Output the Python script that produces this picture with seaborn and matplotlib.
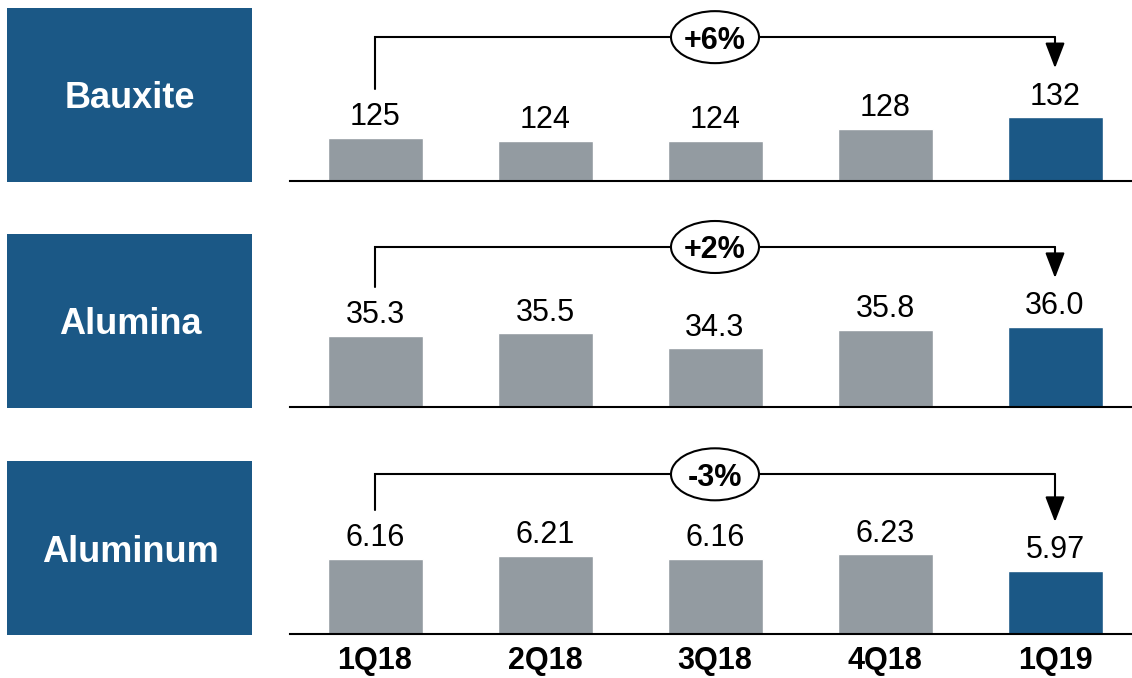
import matplotlib
matplotlib.use("Agg")
import matplotlib.pyplot as plt
from matplotlib.patches import Ellipse, Rectangle
import seaborn as sns
import pandas as pd

# data
quarters = ["1Q18", "2Q18", "3Q18", "4Q18", "1Q19"]
bauxite = [125, 124, 124, 128, 132]
alumina = [35.3, 35.5, 34.3, 35.8, 36.0]
aluminum = [6.16, 6.21, 6.16, 6.23, 5.97]
segments = ["Bauxite", "Alumina", "Aluminum"]
changes = ["+6%", "+2%", "-3%"]
value_fmt = ["{:.0f}", "{:.1f}", "{:.2f}"]

# truncated value axes (floor value and pixels per unit)
axis_floor = [110.5, 29.6, 4.985]
px_per_unit = [2.97, 12.5, 64.0]

BLUE = "#1B5886"
GREY = "#939BA1"
W, H = 1132, 678
baselines = [181, 407, 634]
AX_H = 200  # axes height in px above baseline
STEP = 170  # px between bar centres

sns.set_theme(style="white")
plt.rcParams["font.family"] = ["Liberation Sans", "DejaVu Sans"]

fig = plt.figure(figsize=(W / 100, H / 100), dpi=100)

series = [bauxite, alumina, aluminum]
for i, values in enumerate(series):
    base = baselines[i]

    # left label box
    fig.add_artist(Rectangle((7 / W, 1 - (base + 1) / H), 245 / W, 174 / H,
                             transform=fig.transFigure, facecolor=BLUE,
                             edgecolor="none"))
    fig.text(130 / W, 1 - (base - 86) / H, segments[i], color="white",
             fontsize=26, fontweight="bold", ha="center",
             va="center_baseline")

    ax = fig.add_axes([290 / W, 1 - base / H, (W - 290) / W, AX_H / H])
    ax.set_facecolor("none")

    df = pd.DataFrame({"quarter": quarters, "value": values})
    colors = [GREY] * (len(quarters) - 1) + [BLUE]
    sns.barplot(data=df, x="quarter", y="value", hue="quarter",
                palette=colors, width=95 / STEP, legend=False, ax=ax,
                saturation=1)

    s = px_per_unit[i]
    lo = axis_floor[i]
    ax.set_ylim(lo, lo + AX_H / s)
    ax.set_xlim(-0.5, -0.5 + (W - 290) / STEP)

    for c, v in zip(ax.containers, values):
        ax.bar_label(c, labels=[value_fmt[i].format(v)], padding=4,
                     fontsize=22, color="black")

    # bracket with change label
    first, last = 0, len(values) - 1
    y_left = values[first] + 49 / s
    y_tip = values[last] + 49 / s
    y_top = max(values) + 80 / s
    ax.plot([first, first, last, last], [y_left, y_top, y_top, y_top],
            color="black", lw=1.5, solid_joinstyle="miter", clip_on=False)
    ax.annotate("", xy=(last, y_tip), xytext=(last, y_top),
                arrowprops=dict(arrowstyle="-|>,head_length=1.3,head_width=0.5",
                                lw=1.5, color="black", shrinkA=0, shrinkB=0),
                annotation_clip=False)
    mid = (first + last) / 2
    ax.add_patch(Ellipse((mid, y_top), 88 / STEP, 52 / s, facecolor="white",
                         edgecolor="black", lw=1.5, zorder=5, clip_on=False))
    ax.text(mid, y_top, changes[i], fontsize=22, fontweight="bold",
            color="black", ha="center", va="center_baseline", zorder=6)

    # axis styling
    for side in ["top", "right", "left"]:
        ax.spines[side].set_visible(False)
    ax.spines["bottom"].set_color("black")
    ax.spines["bottom"].set_linewidth(1.5)
    ax.set_yticks([])
    ax.set_xlabel("")
    ax.set_ylabel("")
    ax.tick_params(axis="x", length=0, pad=9)
    if i == len(series) - 1:
        ax.set_xticks(range(len(quarters)))
        ax.set_xticklabels(quarters, fontsize=22, fontweight="bold",
                           color="black")
    else:
        ax.set_xticklabels([])

fig.savefig("out.png", dpi=100)
